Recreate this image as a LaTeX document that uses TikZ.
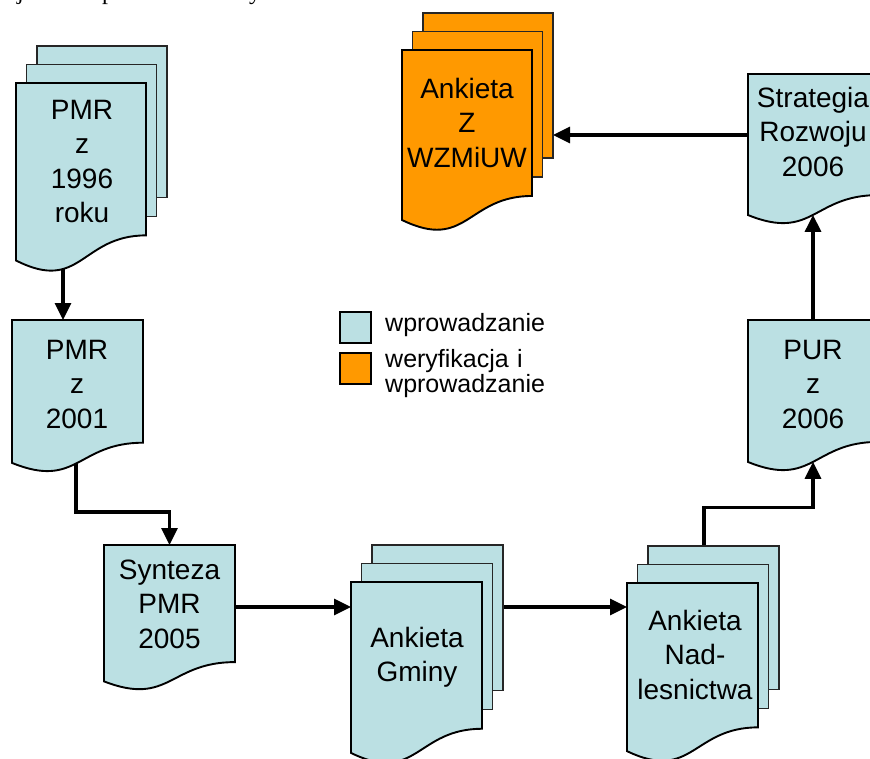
\documentclass[tikz,border=0pt]{standalone}
\usepackage{fontspec}
\setmainfont{Liberation Sans}
\newfontfamily\captionserif{Liberation Serif}
\usetikzlibrary{arrows.meta,calc}

\definecolor{docblue}{HTML}{BBE0E3}
\definecolor{docorange}{HTML}{FF9900}

\pgfdeclarelayer{bg}
\pgfsetlayers{bg,main}

\tikzset{
  conn/.style={line width=3.2pt, -{Triangle[length=17pt,width=16pt]}},
  sheetline/.style={line width=1.9pt, draw=black},
  backline/.style={line width=1.4pt, draw=black!85},
  frame/.style={draw=none, inner sep=0pt, outer sep=0pt},
  doctext/.style={anchor=base, text width=140pt, align=center, inner sep=0pt,
    font=\fontsize{28}{34.5}\selectfont},
  legendbox/.style={draw, line width=2.2pt, minimum size=31pt, inner sep=0pt},
  legendtext/.style={anchor=base west, inner sep=0pt, text width=200pt, align=left,
    font=\fontsize{25}{25.5}\selectfont},
  fragment/.style={anchor=base west, inner sep=0pt,
    font=\captionserif\fontsize{24}{28}\selectfont},
}

% single document sheet with a wavy bottom edge: name, fill, x0, y0, width, height
\newcommand\singledoc[6]{%
  \filldraw[fill=#2, sheetline] (#3,#4) -- ({#3+#5},#4) -- ({#3+#5},{#4+0.802*#6})
    .. controls ({#3+0.5*#5},{#4+0.802*#6}) and ({#3+0.5*#5},{#4+1.108*#6}) .. (#3,{#4+0.934*#6}) -- cycle;
  \node[frame, minimum width=#5pt, minimum height=#6pt] (#1) at ({#3+0.5*#5},{#4+0.5*#6}) {};
  \coordinate (#1-wave) at ({#3+0.5*#5},{#4+0.933*#6});
}

% stack of three sheets; the front one has the wavy edge
\newcommand\multidoc[6]{%
  \filldraw[fill=#2, backline] ({#3+21},{#4-37}) rectangle ({#3+#5+21},{#4+0.802*#6-38});
  \node[frame, minimum width=#5pt, minimum height={0.802*#6+1}] (#1-back)
    at ({#3+21+0.5*#5},{#4-37+0.5*(0.802*#6+1)}) {};
  \filldraw[fill=#2, backline] ({#3+10.5},{#4-18.5}) rectangle ({#3+#5+10.5},{#4+0.802*#6-19});
  \singledoc{#1}{#2}{#3}{#4}{#5}{#6}%
}

\begin{document}
\begin{tikzpicture}[x=1pt, y=-1pt]
  \useasboundingbox (0,0) rectangle (870,758);
  \clip (0,0) rectangle (870,758);

  % tails of the caption line above
  \node[fragment] (capj) at (17,-0.5) {j};
  \node[fragment] (capp) at (102,-0.5) {p};
  \node[fragment] (capy) at (249,-0.5) {y};

  % documents
  \multidoc{pmr96}{docblue}{16}{83}{130}{190}
  \singledoc{pmr01}{docblue}{12}{320}{131}{153}
  \singledoc{syn}{docblue}{104}{545}{131}{146}
  \multidoc{gminy}{docblue}{351}{582}{131}{183}
  \multidoc{nadl}{docblue}{627}{583}{131}{180}
  \singledoc{pur}{docblue}{748}{320}{130}{152}
  \singledoc{strat}{docblue}{748}{74}{130}{151}
  \multidoc{wz}{docorange}{402}{50}{130}{182}

  % labels
  \node[doctext] (pmr96-label) at (82,119) {PMR\\z\\1996\\roku};
  \node[doctext] (pmr01-label) at (77,359) {PMR\\z\\2001};
  \node[doctext] (syn-label) at (169.5,579) {Synteza\\PMR\\2005};
  \node[doctext] (gminy-label) at (417,647) {Ankieta\\Gminy};
  \node[doctext] (nadl-label) at (695,630) {Ankieta\\Nad-\\lesnictwa};
  \node[doctext] (pur-label) at (813,359) {PUR\\z\\2006};
  \node[doctext] (strat-label) at (813,107) {Strategia\\Rozwoju\\2006};
  \node[doctext] (wz-label) at (467,98) {Ankieta\\Z\\WZMiUW};

  % legend
  \node[legendbox, fill=docblue] (key-blue) at (355.5,327.5) {};
  \node[legendbox, fill=docorange] (key-orange) at (355.5,368.5) {};
  \node[legendtext] (key-blue-text) at (385,331) {wprowadzanie};
  \node[legendtext] (key-orange-text) at (385,367) {weryfikacja i\\wprowadzanie};

  % connectors, behind the sheets
  \begin{pgfonlayer}{bg}
    \draw[conn] ([xshift=-18pt]pmr96.center) -- ([xshift=-18pt]pmr96.center |- pmr01.north);
    \draw[conn] ([xshift=-1.5pt]pmr01.center) |- ([yshift=33pt]syn.north) -- (syn.north);
    \draw[conn] ([yshift=11pt]syn.center) -- ([yshift=11pt]syn.center -| gminy.west);
    \draw[conn] (gminy-back.east |- syn.east) ++(0,-11) coordinate (gminy-out)
      -- (gminy-out -| nadl.west);
    \draw[conn] ([xshift=-9.5pt]nadl-back.center) |- ([yshift=-46pt]pur-wave) -- (pur-wave);
    \draw[conn] (pur.center) -- (strat-wave);
    \draw[conn] ([yshift=14.5pt]strat.center) -- ([yshift=14.5pt]strat.center -| wz-back.east);
  \end{pgfonlayer}
\end{tikzpicture}
\end{document}
